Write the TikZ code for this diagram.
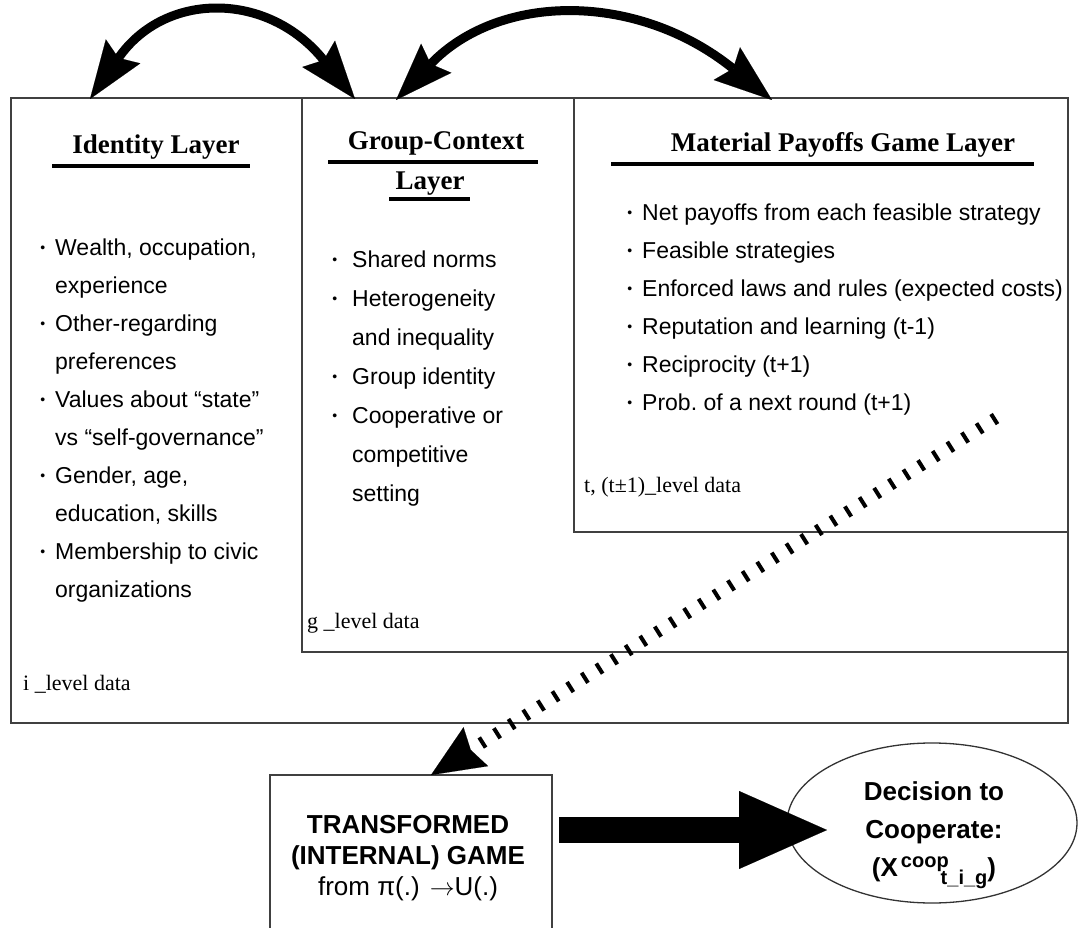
\documentclass[tikz,border=0pt]{standalone}
\usepackage{fontspec}
\setmainfont{Liberation Serif}
\setsansfont{Liberation Sans}
\usetikzlibrary{arrows.meta,shapes.geometric}

\tikzset{
  layerbox/.style={draw=black!75, line width=1.3pt, inner sep=0pt, outer sep=0pt, anchor=north west},
  headtext/.style={font=\fontsize{27}{30}\selectfont\rmfamily\bfseries, inner sep=0pt, anchor=base},
  headrule/.style={line width=3.5pt},
  listtext/.style={font=\fontsize{23}{38}\selectfont\sffamily, align=left, inner sep=0pt, anchor=base west},
  leveltext/.style={font=\fontsize{22}{24}\selectfont\rmfamily, inner sep=0pt, anchor=base west},
  bigtext/.style={font=\fontsize{26}{31}\selectfont\sffamily\bfseries, align=center, inner sep=0pt, anchor=base},
  swaparrow/.style={line width=9pt,
    {Stealth[length=58pt,width=42pt,inset=8pt,line width=0.1pt]}-{Stealth[length=58pt,width=42pt,inset=8pt,line width=0.1pt]}},
  dotarrow/.style={line width=12pt, dash pattern=on 4pt off 13.3pt,
    -{Stealth[length=53pt,width=46pt,inset=6pt,line width=0.1pt]}},
  fatarrow/.style={line width=26pt, -{Triangle[length=88pt,width=78pt,line width=0.1pt]}},
}
\newcommand{\bul}{\llap{\raisebox{3pt}{\fontsize{14}{14}\selectfont •}\hspace{10pt}}}
\newcommand{\bulw}{\llap{\raisebox{3pt}{\fontsize{14}{14}\selectfont •}\hspace{15pt}}}

\begin{document}
\begin{tikzpicture}[x=1pt, y=-1pt]
  \useasboundingbox (0,0) rectangle (1088,928);

  % the three nested layers
  \node[layerbox, minimum width=1057pt, minimum height=625pt] (idbox) at (11,98) {};
  \node[layerbox, minimum width=766pt, minimum height=554pt] (grpbox) at (302,98) {};
  \node[layerbox, minimum width=494pt, minimum height=434pt] (matbox) at (574,98) {};

  % headings
  \node[headtext] (idhead) at (156,154) {Identity Layer};
  \draw[headrule] (52,166) -- (250,166);
  \node[headtext] (grphead) at (436,150) {Group-Context};
  \draw[headrule] (328,162) -- (538,162);
  \node[headtext] (grphead2) at (430,190) {Layer};
  \draw[headrule] (389,199) -- (470,199);
  \node[headtext] (mathead) at (843,152) {Material Payoffs Game Layer};
  \draw[headrule] (611,164) -- (1034,164);

  % contents (base = last line)
  \node[listtext] (idlist) at (55,597) {\bul Wealth, occupation,\\experience\\\bul Other-regarding\\preferences\\\bul Values about “state”\\vs “self-governance”\\\bul Gender, age,\\education, skills\\\bul Membership to civic\\organizations};
  \node[listtext, font=\fontsize{23}{39}\selectfont\sffamily] (grplist) at (352,501) {\bulw Shared norms\\\bulw Heterogeneity\\and inequality\\\bulw Group identity\\\bulw Cooperative or\\competitive\\setting};
  \node[listtext] (matlist) at (642,410) {\bul Net payoffs from each feasible strategy\\\bul Feasible strategies\\\bul Enforced laws and rules (expected costs)\\\bul Reputation and learning (t-1)\\\bul Reciprocity (t+1)\\\bul Prob.\ of a next round (t+1)};

  \node[leveltext] (ilevel) at (23,690) {i \_level data};
  \node[leveltext] (glevel) at (307,628) {g \_level data};
  \node[leveltext] (tlevel) at (584,492) {t, (t±1)\_level data};

  % game and decision
  \node[layerbox, minimum width=282pt, minimum height=160pt] (trans) at (270,775) {};
  \node[bigtext] (transtext) at (408,895) {TRANSFORMED\\(INTERNAL) GAME\\{\mdseries from π(.)\hspace{10pt}$\rightarrow$U(.)}};
  \node[draw=black!80, line width=1.3pt, ellipse, minimum width=290pt, minimum height=160pt] (dec) at (932,823) {};
  \node[bigtext, font=\fontsize{26}{38}\selectfont\sffamily\bfseries] (dectext) at (934,876) {Decision to\\Cooperate:\\(X\hspace{3pt}\raisebox{9pt}{\fontsize{20}{20}\selectfont coop}\hspace{-8pt}\raisebox{-8pt}{\fontsize{20}{20}\selectfont t\_i\_g})};

  % arrows
  \coordinate (a1s) at (90,99);
  \coordinate (a1e) at (355,99);
  \coordinate (a2s) at (396,100);
  \coordinate (a2e) at (772,100);
  \draw[swaparrow] (a1s) .. controls (165,-9) and (268,-9) .. (a1e);
  \draw[swaparrow] (a2s) .. controls (500,-8) and (638,-8) .. (a2e);

  \coordinate (dotstart) at (996,418);
  \draw[dotarrow] (dotstart) -- ([xshift=20pt]trans.north);

  \coordinate (fatstart) at (559,830);
  \coordinate (fattip) at (827,830);
  \draw[fatarrow] (fatstart) -- (fattip);
\end{tikzpicture}
\end{document}
